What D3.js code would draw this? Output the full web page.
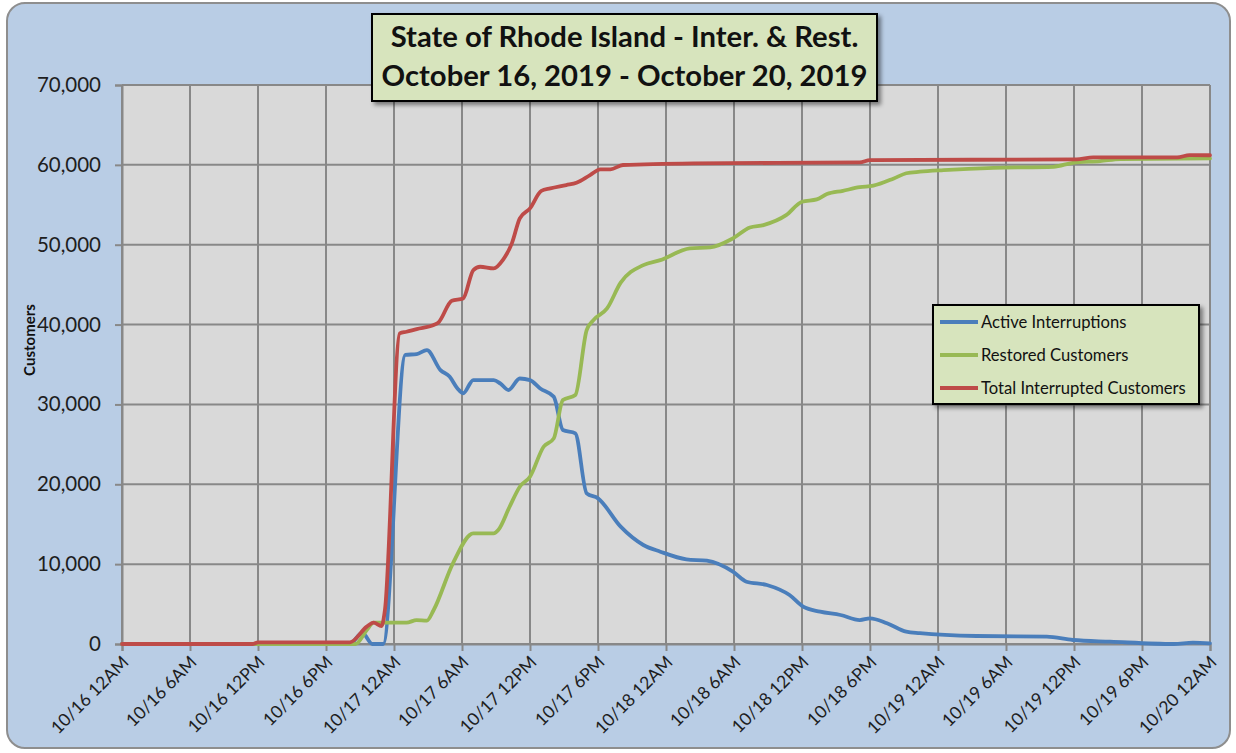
<!DOCTYPE html>
<html>
<head>
<meta charset="utf-8">
<script src="https://cdn.jsdelivr.net/npm/d3@7"></script>
<style>
  body { margin: 0; background: #ffffff; }
  text { font-family: Lato, "Open Sans", sans-serif; }
</style>
</head>
<body>
<div id="chart"></div>
<script>
// hours since 10/16/2019 12AM, customers
var activeInterruptions = [
  [0, 0], [20.1, 0], [21.2, 1400], [22.1, 0], [23.05, 0], [25.0, 36200], [26.0, 36300],
  [26.9, 36800], [28.1, 34300], [28.9, 33500], [29.6, 32000], [30.1, 31400], [31.0, 33050],
  [32.8, 33050], [33.4, 32600], [34.1, 31800], [35.1, 33250], [36.0, 33050], [36.9, 32000],
  [38.1, 30960], [38.9, 26800], [40.0, 26380], [41.0, 18870], [42.0, 18240], [44.0, 14690],
  [46.0, 12400], [47.5, 11560], [49.8, 10600], [51.6, 10430], [53.9, 9060], [55.1, 7800],
  [56.9, 7390], [58.9, 6130], [60.1, 4670], [61.6, 4050], [63.4, 3630], [65.1, 3000],
  [66.0, 3210], [67.5, 2590], [69.2, 1540], [70.4, 1350], [75.4, 1000], [81.6, 920],
  [83.9, 500], [87.2, 290], [92.8, 0], [94.5, 160], [96, 90]
];
var restoredCustomers = [
  [0, 0], [20.6, 0], [21.6, 1750], [22.2, 2670], [25.1, 2670], [26.0, 3000], [26.9, 2920],
  [27.5, 4260], [29.2, 10100], [31.0, 13860], [32.8, 13860], [33.2, 14270], [34.2, 17190],
  [35.1, 19690], [36.0, 20950], [37.2, 24700], [38.1, 25750], [38.9, 30550], [40.0, 31170],
  [41.0, 39300], [41.6, 40560], [42.8, 42020], [44.0, 45250], [46.0, 47450], [47.5, 48070],
  [50.1, 49540], [51.9, 49660], [53.9, 50790], [55.4, 52160], [56.6, 52460], [58.6, 53700],
  [60.0, 55380], [61.3, 55670], [62.2, 56340], [63.6, 56750], [65.1, 57200], [66.3, 57400],
  [68.1, 58300], [69.2, 58950], [70.4, 59140], [72.5, 59340], [76.9, 59630], [82.2, 59760],
  [83.9, 60260], [86.3, 60470], [88.1, 60720], [96, 60800]
];
var totalInterrupted = [
  [0, 0], [11.5, 0], [12, 200], [20.1, 200], [21.6, 2170], [22.2, 2670], [22.9, 2250],
  [23.2, 4260], [24.5, 38900], [25.1, 39100], [26.0, 39440], [27.5, 39940], [27.9, 40230],
  [29.1, 42980], [30.1, 43280], [31.0, 46830], [31.6, 47240], [32.8, 47030], [33.6, 48080],
  [34.4, 50170], [35.1, 53300], [36.0, 54550], [37.0, 56750], [37.8, 57050], [39.2, 57470],
  [40.1, 57760], [41.3, 58720], [42.2, 59440], [43.1, 59440], [44.2, 59980], [50.4, 60190],
  [65.1, 60300], [66.0, 60600], [84.2, 60680], [85.7, 60930], [93.1, 60930], [94.2, 61220],
  [96, 61200]
];
var seriesNames = ["Active Interruptions", "Restored Customers", "Total Interrupted Customers"];
var seriesColors = ["#4a7ebb", "#98b954", "#be4b48"];
var tickHours = d3.range(0, 97, 6);
var tickLabels = ["10/16 12AM", "10/16 6AM", "10/16 12PM", "10/16 6PM",
  "10/17 12AM", "10/17 6AM", "10/17 12PM", "10/17 6PM",
  "10/18 12AM", "10/18 6AM", "10/18 12PM", "10/18 6PM",
  "10/19 12AM", "10/19 6AM", "10/19 12PM", "10/19 6PM", "10/20 12AM"];
var yTicks = d3.range(0, 70001, 10000);
var titleLines = ["State of Rhode Island - Inter. & Rest.", "October 16, 2019 - October 20, 2019"];

var svgWidth = 1236, svgHeight = 753;
var margin = {top: 85, right: 26, bottom: 109, left: 122};
var width = svgWidth - margin.left - margin.right;
var height = svgHeight - margin.top - margin.bottom;

var svg = d3.select("#chart").append("svg")
  .attr("width", svgWidth)
  .attr("height", svgHeight);

var defs = svg.append("defs");
var shadow = defs.append("filter").attr("id", "shadow")
  .attr("x", "-10%").attr("y", "-10%").attr("width", "130%").attr("height", "140%");
shadow.append("feDropShadow")
  .attr("dx", 3).attr("dy", 3).attr("stdDeviation", 2)
  .attr("flood-color", "#000").attr("flood-opacity", 0.45);

// outer chart frame
svg.append("rect")
  .attr("x", 7).attr("y", 3)
  .attr("width", 1223).attr("height", 745)
  .attr("rx", 18)
  .attr("fill", "#b9cde5")
  .attr("stroke", "#8e8e8e")
  .attr("stroke-width", 2);

var chartGroup = svg.append("g")
  .attr("transform", `translate(${margin.left}, ${margin.top})`);

var xScale = d3.scaleLinear().domain([0, 96]).range([0, width]);
var yScale = d3.scaleLinear().domain([0, 70000]).range([height, 0]);

chartGroup.append("rect")
  .attr("width", width).attr("height", height)
  .attr("fill", "#d9d9d9");

// gridlines
chartGroup.append("g")
  .selectAll("line.v")
  .data(tickHours)
  .enter().append("line")
  .attr("x1", d => xScale(d)).attr("x2", d => xScale(d))
  .attr("y1", 0).attr("y2", height)
  .attr("stroke", "#888").attr("stroke-width", 2);

chartGroup.append("g")
  .selectAll("line.h")
  .data(yTicks)
  .enter().append("line")
  .attr("x1", 0).attr("x2", width)
  .attr("y1", d => yScale(d)).attr("y2", d => yScale(d))
  .attr("stroke", "#888").attr("stroke-width", 2);

// axes
var leftAxis = d3.axisLeft(yScale)
  .tickValues(yTicks)
  .tickSize(7)
  .tickPadding(14)
  .tickFormat(d3.format(","));
var bottomAxis = d3.axisBottom(xScale)
  .tickValues(tickHours)
  .tickSize(7)
  .tickFormat((d, i) => tickLabels[i]);

var yAxisG = chartGroup.append("g").call(leftAxis);
var xAxisG = chartGroup.append("g")
  .attr("transform", `translate(0, ${height})`)
  .call(bottomAxis);

[yAxisG, xAxisG].forEach(function(g) {
  g.select(".domain").attr("stroke", "#888").attr("stroke-width", 2);
  g.selectAll(".tick line").attr("stroke", "#888").attr("stroke-width", 2);
});
yAxisG.selectAll("text")
  .attr("font-size", 20.5)
  .attr("fill", "#1e1e1e")
  .style("font-family", "Lato");

xAxisG.selectAll("text")
  .attr("font-size", 17.5)
  .attr("fill", "#1e1e1e")
  .style("font-family", "Lato")
  .attr("text-anchor", "end")
  .attr("dy", "0.35em")
  .attr("transform", "translate(3, 15) rotate(-45)")
  .attr("y", 0).attr("x", 0);

// y label
svg.append("text")
  .attr("transform", "translate(35, 340) rotate(-90)")
  .attr("text-anchor", "middle")
  .attr("font-size", 15)
  .attr("font-weight", "bold")
  .attr("fill", "#111")
  .text("Customers");

// lines
var line = d3.line()
  .x(d => xScale(d[0]))
  .y(d => yScale(d[1]))
  .curve(d3.curveMonotoneX);

[activeInterruptions, restoredCustomers, totalInterrupted].forEach(function(data, i) {
  chartGroup.append("path")
    .datum(data)
    .attr("d", line)
    .attr("fill", "none")
    .attr("stroke", seriesColors[i])
    .attr("stroke-width", 3.8)
    .attr("stroke-linejoin", "round")
    .attr("stroke-linecap", "round");
});

// title box
svg.append("rect")
  .attr("x", 372).attr("y", 14)
  .attr("width", 505).attr("height", 87)
  .attr("fill", "#d7e4bd")
  .attr("stroke", "#000")
  .attr("stroke-width", 2)
  .attr("filter", "url(#shadow)");

var titleText = svg.append("g").selectAll("text")
  .data(titleLines)
  .enter().append("text")
  .attr("x", 624.5)
  .attr("y", (d, i) => 47 + i * 38.5)
  .attr("text-anchor", "middle")
  .attr("font-size", 24)
  .attr("font-weight", "bold")
  .attr("fill", "#111")
  .text(d => d);

// fit the title to the box width
var maxLen = d3.max(titleText.nodes(), n => n.getComputedTextLength());
titleText.attr("font-size", 24 * 486 / maxLen);

// legend
var legend = svg.append("g");
legend.append("rect")
  .attr("x", 933).attr("y", 305)
  .attr("width", 266).attr("height", 99)
  .attr("fill", "#d7e4bd")
  .attr("stroke", "#000")
  .attr("stroke-width", 2)
  .attr("filter", "url(#shadow)");

var legendItems = legend.selectAll("g.item")
  .data(seriesNames)
  .enter().append("g")
  .attr("transform", (d, i) => `translate(940, ${322 + i * 33})`);

legendItems.append("line")
  .attr("x1", 0).attr("x2", 38)
  .attr("stroke", (d, i) => seriesColors[i])
  .attr("stroke-width", 4);

legendItems.append("text")
  .attr("x", 41)
  .attr("dy", "0.35em")
  .attr("font-size", 16.6)
  .attr("fill", "#111")
  .text(d => d);
</script>
</body>
</html>
